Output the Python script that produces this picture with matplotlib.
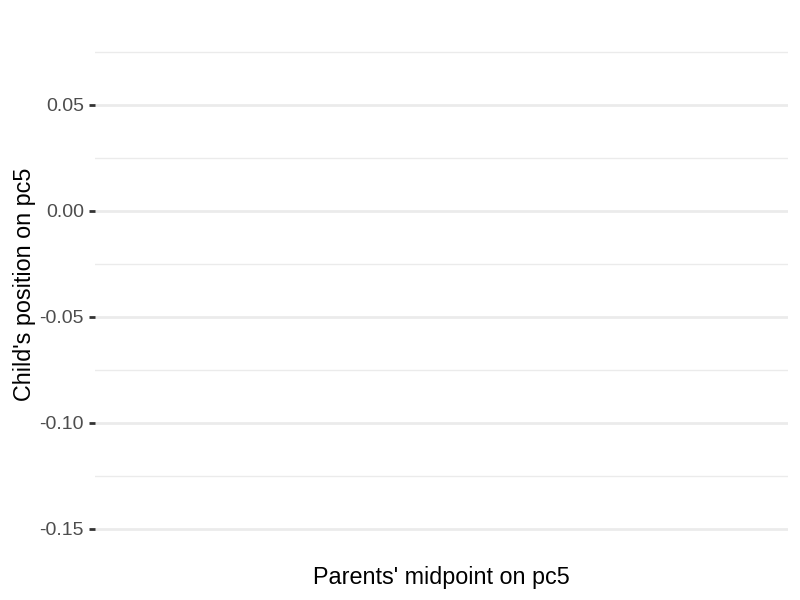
import matplotlib
matplotlib.use('Agg')
import matplotlib.pyplot as plt

# --- DATA (the reference panel holds no marks) ---
parent_mid = []
child_pos = []

y_major = [0.05, 0.00, -0.05, -0.10, -0.15]
y_labels = ['0.05', '0.00', '-0.05', '-0.10', '-0.15']
y_minor = [0.075, 0.025, -0.025, -0.075, -0.125]
y_lim = (-0.1618, 0.0929)

plt.rcParams['font.family'] = ['Liberation Sans', 'DejaVu Sans']

fig = plt.figure(figsize=(8, 6), dpi=100)
ax = fig.add_axes([95 / 800, 1 - 554 / 600, (788 - 95) / 800, (554 - 14) / 600])

ax.scatter(parent_mid, child_pos)
ax.set_ylim(*y_lim)
ax.set_xlim(0, 1)

ax.set_yticks(y_major)
ax.set_yticklabels(y_labels)
ax.set_yticks(y_minor, minor=True)
ax.set_xticks([])

for s in ax.spines.values():
    s.set_visible(False)

ax.grid(True, axis='y', which='major', color='#EBEBEB', linewidth=2.0)
ax.grid(True, axis='y', which='minor', color='#EBEBEB', linewidth=1.0)
ax.set_axisbelow(True)

ax.tick_params(axis='y', which='major', length=4, width=2, color='#333333',
               labelcolor='#4D4D4D', labelsize=14, pad=4)
ax.tick_params(axis='y', which='minor', length=0)

ax.set_xlabel("Parents' midpoint on pc5", fontsize=16.8, color='black', labelpad=8.5)
ax.set_ylabel("Child's position on pc5", fontsize=16.8, color='black', labelpad=2.5)

fig.savefig('out.png', dpi=100, facecolor='white')
